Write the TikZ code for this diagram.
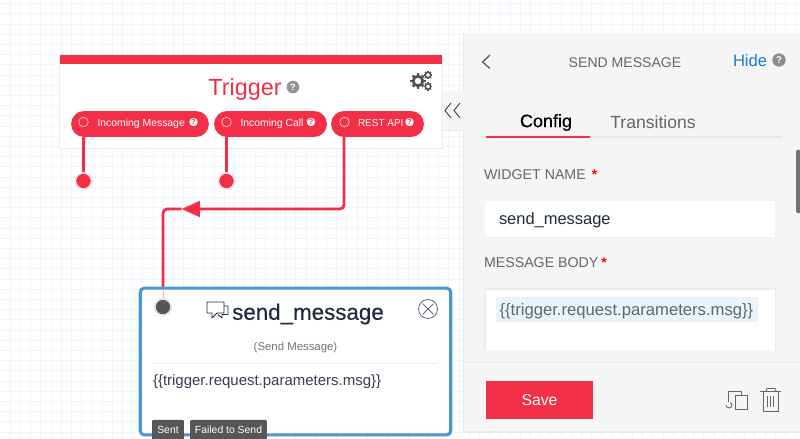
\documentclass[tikz,border=0pt]{standalone}
\usepackage{fontspec}
\setmainfont{Liberation Sans}
\newfontfamily\medfont[FakeBold=0.35]{Liberation Sans}
\usetikzlibrary{arrows.meta}
\definecolor{flexred}{HTML}{F22F46}
\definecolor{gridblue}{HTML}{EEF5FC}
\definecolor{panelgray}{HTML}{F5F5F5}
\definecolor{labelgray}{HTML}{666666}
\definecolor{cardblue}{HTML}{4A97D2}
\definecolor{inkdark}{HTML}{1F2A3C}
\definecolor{linkblue}{HTML}{1F7AD1}
\definecolor{tagdark}{HTML}{565656}
\definecolor{chosenblue}{HTML}{E9F3FC}
\newcommand{\fsize}[1]{\fontsize{#1}{#1}\selectfont}
\tikzset{
  txt/.style={inner sep=0pt,outer sep=0pt},
  pill/.style={fill=flexred,rounded corners=13*0.71pt,minimum height=26*0.71pt,inner sep=0pt,outer sep=0pt,text=white,font=\fsize{7.5}},
  pilltext/.style={txt,text=white,font=\fsize{7.4},anchor=west},
  pillhelp/.style={circle,inner sep=0pt,minimum size=6pt,fill=white,text=flexred,font=\bfseries\fsize{5.5}},
  hollowport/.style={circle,draw=white!75!flexred,line width=0.5pt,inner sep=0pt,minimum size=6.8pt},
  enddot/.style={circle,fill=flexred,draw=flexred!15,line width=1.2pt,inner sep=0pt,minimum size=11.5pt},
  wire/.style={draw=flexred,line width=2pt},
  help/.style={circle,inner sep=0pt,minimum size=#1,font=\bfseries\fsize{6.5}},
  tag/.style={fill=tagdark,text=white,rounded corners=1pt,inner sep=0pt,minimum height=14.5pt,font=\fsize{7.4}},
  fieldname/.style={txt,anchor=west,text=labelgray,font=\fsize{10.1}},
  star/.style={txt,text=red,font=\bfseries\fsize{10}},
  iconline/.style={draw=labelgray,line width=0.6pt,line join=round},
}
\begin{document}
\begin{tikzpicture}[x=0.025cm,y=-0.025cm]
\useasboundingbox (0,0) rectangle (800,439);

% grid
\foreach \i in {1,...,78} \draw[gridblue,line width=0.5pt] ({\i*10.2},0) -- ({\i*10.2},439);
\foreach \i in {0,...,43} \draw[gridblue,line width=0.5pt] (0,{3.5+\i*10.2}) -- (800,{3.5+\i*10.2});

% trigger card
\fill[black!8] (59,56) rectangle (443,149.5);
\fill[white] (60,55) rectangle (442,148);
\fill[flexred] (60,55) rectangle (442,64);
\node[txt,text=flexred,font=\fsize{16.6}] (triggertitle) at (245,89.5) {Trigger};
\node[help=9pt,fill=black!42,text=white] (triggerhelp) at (293,87) {?};
% gears
\foreach \cx/\cy/\rr/\wd in {418/81/4.8/3.2,428/75/2.7/1.7,428/86.5/2.7/1.7}{
  \foreach \a in {0,45,...,315}
    \draw[black!68,line width=\wd*0.55pt] (\cx,\cy) ++(\a:\rr) -- ++(\a:{\rr*0.62});
  \draw[black!68,line width=\wd*0.62pt] (\cx,\cy) circle (\rr);
}

\node[pill,minimum width=138*0.71pt] (pillmsg) at (140,124) {};
\node[pill,minimum width=113*0.71pt] (pillcall) at (270.5,124) {};
\node[pill,minimum width=93*0.71pt] (pillapi) at (377.5,124) {};
\node[pilltext] (msgtext) at (97.5,123.5) {Incoming Message};
\node[pilltext] (calltext) at (240.5,123.5) {Incoming Call};
\node[pilltext,font=\fsize{7.1}] (apitext) at (358,123) {REST API};
\node[hollowport] (msgport) at (83.5,122) {};
\node[hollowport] (callport) at (226.5,122) {};
\node[hollowport] (apiport) at (344.5,122) {};
\node[pillhelp] (msghelp) at (193.5,122) {?};
\node[pillhelp] (callhelp) at (311,122) {?};
\node[pillhelp] (apihelp) at (409.5,122) {?};

% ends of the wires
\node[enddot] (msgend) at (83.5,181) {};
\node[enddot] (callend) at (226.5,181) {};
\coordinate (msgfoot) at (83.5,137);
\coordinate (callfoot) at (226.5,137);
\coordinate (apifoot) at (344,137);
\coordinate (arrowtip) at (181.5,209);
\coordinate (elbow) at (163,209);
\coordinate (cardtop) at (163,289);
\draw[wire] (msgfoot) -- (msgend);
\draw[wire] (callfoot) -- (callend);
\draw[wire,rounded corners=3pt,-{Triangle[length=13pt,width=11pt]}] (apifoot) |- (arrowtip);
\draw[wire,rounded corners=3pt] (arrowtip) -- (elbow) -- (cardtop);

% widget
\node[draw=cardblue,fill=white,line width=2.2pt,rounded corners=3pt,minimum width=311*0.71pt,minimum height=147*0.71pt,inner sep=0pt] (widget) at (295.5,361.5) {};
\node[circle,fill=tagdark,draw=black!12,line width=1.2pt,inner sep=0pt,minimum size=11.5pt] (widgetport) at (163,307) {};
\draw[flexred!40,line width=0.6pt] (cardtop) -- (widgetport);
\node[txt,text=inkdark,font=\medfont\fsize{15.9}] (widgettitle) at (308,314) {send\_message};
% chat icon
\draw[draw=inkdark,line width=0.6pt,line join=round] (207,302) -- (224,302) -- (224,313) -- (217,313) -- (212,318) -- (212,313) -- (207,313) -- cycle;
\draw[draw=inkdark,line width=0.6pt,line join=round] (224,306) -- (228,306) -- (228,314.5) -- (222,314.5) -- (222,318) -- (218,314.5);
% close
\node[circle,draw=inkdark!80,line width=0.5pt,inner sep=0pt,minimum size=13.5pt] (closebtn) at (428,309) {};
\draw[inkdark!80,line width=0.5pt,shorten >=1.6pt,shorten <=1.6pt] (closebtn.45) -- (closebtn.225);
\draw[inkdark!80,line width=0.5pt,shorten >=1.6pt,shorten <=1.6pt] (closebtn.135) -- (closebtn.315);
\node[txt,text=black!55,font=\fsize{8.1}] (widgetkind) at (295.5,348) {(Send Message)};
\draw[black!7,line width=0.6pt] (152,363.5) -- (438,363.5);
\node[txt,anchor=west,text=inkdark!90,font=\fsize{10.65}] (widgetbody) at (153,382) {\{\{trigger.request.parameters.msg\}\}};
\node[tag,minimum width=32*0.71pt] (senttag) at (168,430) {Sent};
\node[tag,minimum width=77*0.71pt] (failtag) at (228.5,430) {Failed to Send};

% panel
\fill[black!9] (462.5,33) rectangle (800,433);
\fill[panelgray] (464,33) rectangle (800,431);
\draw[black!4,line width=0.8pt] (464,90) -- (800,90);
\fill[black!8] (440.5,92) rectangle (464,131);
\fill[panelgray,rounded corners=2pt] (441.5,91) rectangle (470,130);
\draw[black!80,line width=0.6pt] (451,103) -- (445,110.5) -- (451,118) (460,103) -- (454,110.5) -- (460,118);
\draw[labelgray,line width=1pt] (490,55) -- (482.5,62) -- (490,68.5);
\node[txt,text=labelgray,font=\fsize{10}] (paneltitle) at (625,63) {SEND MESSAGE};
\node[txt,text=linkblue,font=\fsize{11.8},anchor=west] (hidelink) at (733,61) {Hide};
\node[help=9.5pt,fill=black!45,text=white,font=\bfseries\fsize{7}] (hidehelp) at (779,60) {?};
\node[txt,text=black,font=\medfont\fsize{12.8}] (configtab) at (546,122.5) {Config};
\node[txt,text=labelgray,font=\fsize{12.5}] (transtab) at (653,122.5) {Transitions};
\draw[black!9,line width=1.2pt] (486,137) -- (782,137);
\draw[flexred,line width=1.4pt] (486,137) -- (590,137);
\node[fieldname] (namelabel) at (484,175) {WIDGET NAME};
\node[star] (namestar) at (594.5,175) {*};
\node[draw=black!5,fill=white,line width=0.5pt,minimum width=292*0.71pt,minimum height=37*0.71pt,inner sep=0pt] (namefield) at (630,218.5) {};
\node[txt,anchor=west,text=inkdark,font=\fsize{11.7}] (nametext) at (499,220) {send\_message};
\fill[black!55,rounded corners=1pt] (796,150) rectangle (801,213);
\node[fieldname] (bodylabel) at (484,263) {MESSAGE BODY};
\node[star] (bodystar) at (604,263) {*};
\fill[black!8] (484,288) rectangle (776,350);
\fill[white] (486,290) rectangle (775,350);
\node[fill=chosenblue,inner sep=0pt,minimum width=262*0.71pt,minimum height=25*0.71pt] (chosen) at (627,309.5) {};
\node[txt,anchor=west,text=labelgray,font=\fsize{11.85}] (bodytext) at (499.5,311) {\{\{trigger.request.parameters.msg\}\}};
\draw[black!9,line width=0.8pt] (464,362.5) -- (800,362.5);
\node[fill=flexred,text=white,font=\fsize{11.2},inner sep=0pt,minimum width=107*0.71pt,minimum height=38*0.71pt] (savebtn) at (539.5,400) {Save};
% copy icon
\draw[iconline] (735,395) rectangle (747,409);
\draw[iconline] (741.5,395) -- (741.5,391) -- (728,391) -- (728,402);
\draw[iconline] (726,405) arc (180:-60:3);
% trash icon
\draw[iconline] (760,391) -- (781,391);
\draw[iconline] (766,391) -- (767,388.5) -- (775,388.5) -- (776,391);
\draw[iconline] (763,392) -- (763,411) -- (778,411) -- (778,392);
\foreach \tx in {767.5,770.5,773.5} \draw[iconline] (\tx,396) -- (\tx,407);
\end{tikzpicture}
\end{document}
